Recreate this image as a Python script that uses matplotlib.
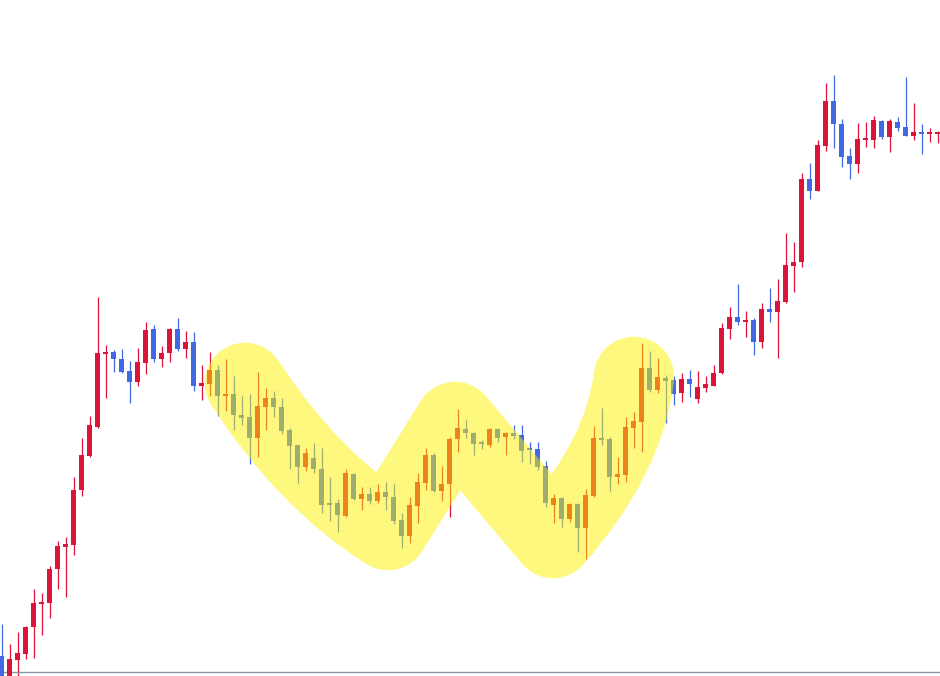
import numpy as np
import matplotlib
matplotlib.use('Agg')
import matplotlib.pyplot as plt
from matplotlib.path import Path
from matplotlib.patches import PathPatch

# candle prices (arbitrary price units)
opens = [20, 0, 16, 22, 49, 72, 73, 107, 129, 131, 186, 220, 249, 322, 324, 317, 305, 294, 313, 347,
         317, 323, 347, 327, 334, 290, 292, 306, 280, 282, 261, 259, 238, 269, 278, 269, 246, 231, 209, 218,
         207, 173, 173, 160, 202, 177, 182, 175, 184, 179, 156, 140, 170, 193, 221, 185, 192, 237, 247, 243,
         233, 231, 247, 239, 243, 241, 228, 227, 210, 171, 178, 157, 172, 148, 180, 238, 237, 199, 201, 248,
         254, 308, 286, 298, 296, 283, 297, 277, 288, 290, 303, 347, 359, 354, 356, 334, 367, 364, 374, 410,
         414, 497, 485, 530, 575, 552, 520, 512, 536, 536, 555, 539, 554, 549, 540, 543, 542, 542]
closes = [0, 17, 23, 49, 73, 74, 107, 130, 132, 186, 221, 251, 323, 324, 317, 304, 294, 314, 346, 317,
          323, 347, 327, 334, 290, 293, 306, 280, 282, 261, 258, 238, 270, 278, 269, 245, 230, 209, 223, 207,
          171, 171, 161, 203, 177, 182, 175, 184, 179, 155, 140, 171, 194, 221, 185, 192, 237, 248, 243, 232,
          232, 247, 238, 243, 240, 225, 226, 209, 173, 178, 157, 172, 148, 181, 238, 236, 199, 202, 249, 255,
          308, 286, 299, 295, 282, 297, 292, 289, 292, 303, 348, 359, 354, 356, 334, 367, 364, 375, 411, 414,
          497, 485, 531, 575, 552, 519, 512, 537, 537, 556, 539, 555, 548, 540, 544, 542, 543, 544]
highs = [52, 32, 44, 50, 87, 83, 110, 135, 139, 199, 238, 260, 379, 331, 326, 327, 315, 328, 354, 351,
         330, 348, 358, 345, 344, 311, 324, 311, 317, 300, 280, 282, 304, 288, 285, 278, 248, 231, 228, 233,
         228, 199, 177, 207, 203, 189, 189, 192, 194, 192, 163, 179, 203, 228, 223, 210, 239, 267, 256, 244,
         236, 248, 248, 244, 251, 251, 234, 234, 215, 182, 179, 173, 173, 187, 250, 268, 239, 219, 259, 264,
         333, 325, 318, 301, 300, 303, 306, 305, 300, 311, 353, 369, 392, 365, 358, 373, 388, 397, 443, 434,
         503, 513, 536, 593, 601, 557, 528, 553, 554, 560, 556, 557, 559, 599, 573, 552, 548, 545]
lows = [0, 0, 0, 17, 18, 41, 58, 87, 79, 121, 180, 219, 248, 278, 304, 303, 273, 290, 302, 314,
        309, 314, 325, 318, 285, 276, 280, 260, 265, 246, 251, 212, 219, 246, 259, 242, 207, 193, 205, 203,
        163, 155, 144, 159, 176, 166, 172, 173, 166, 152, 128, 133, 153, 186, 184, 175, 159, 224, 238, 221,
        227, 229, 234, 221, 237, 214, 212, 206, 169, 153, 149, 154, 124, 117, 179, 231, 185, 192, 194, 228,
        224, 284, 283, 253, 271, 274, 279, 273, 284, 290, 302, 337, 351, 339, 321, 328, 354, 318, 373, 384,
        409, 477, 485, 525, 528, 509, 497, 503, 529, 528, 537, 524, 545, 540, 536, 522, 534, 533]

# hand drawn highlight through the W pattern: (candle index, price) with curve controls
hl_pts = [(30.44, 293), (38.31, 196), (48.31, 146), (56.69, 254),
          (68.94, 138), (77.88, 219.5), (79.06, 299)]
hl_codes = [Path.MOVETO, Path.CURVE3, Path.CURVE3, Path.LINETO,
            Path.LINETO, Path.CURVE3, Path.CURVE3]

o = np.array(opens, dtype=float)
c = np.array(closes, dtype=float)
h = np.array(highs, dtype=float)
l = np.array(lows, dtype=float)
x = np.arange(len(o))

up = c >= o
colors = np.where(up, '#dc143c', '#4169e1')

fig = plt.figure(figsize=(9.4, 6.76), dpi=100)
ax = fig.add_axes([0, 4 / 676, 1, 672 / 676])

ax.vlines(x, l, h, colors=colors, linewidth=0.9, zorder=2, clip_on=False)
body_lo = np.minimum(o, c)
body_h = np.maximum(np.abs(c - o), 1.6)
ax.bar(x, body_h, bottom=body_lo, width=0.7, color=colors, linewidth=0, zorder=3, clip_on=False)

hl = PathPatch(Path(hl_pts, hl_codes), fill=False, edgecolor='#fff200', alpha=0.5,
               linewidth=58, capstyle='round', joinstyle='round', zorder=5)
ax.add_patch(hl)

ax.set_xlim(-0.1875, -0.1875 + 940 / 8)
ax.set_ylim(4, 676)
ax.set_xticks([])
ax.set_yticks([])
for s in ['top', 'left', 'right']:
    ax.spines[s].set_visible(False)
ax.spines['bottom'].set_color('#8a96a3')
ax.spines['bottom'].set_linewidth(1.0)

fig.savefig('out.png', dpi=100)
